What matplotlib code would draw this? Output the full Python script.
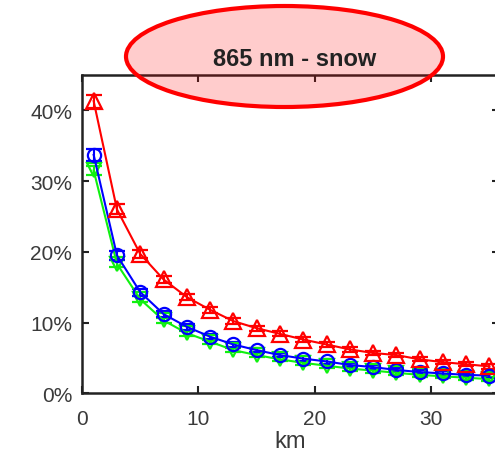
import numpy as np
import matplotlib
matplotlib.use("Agg")
import matplotlib.pyplot as plt
from matplotlib.patches import Ellipse

plt.rcParams['font.family'] = ['Liberation Sans', 'DejaVu Sans']

# distance (km) and relative contribution (%) for each case
km = [1, 3, 5, 7, 9, 11, 13, 15, 17, 19, 21, 23, 25, 27, 29, 31, 33, 35]
red_vals = [41.3, 26.0, 19.7, 16.1, 13.6, 11.8, 10.2, 9.2, 8.4, 7.6, 6.9, 6.2, 5.7, 5.4, 4.8, 4.4, 4.1, 3.8]
blue_vals = [33.7, 19.5, 14.3, 11.2, 9.4, 8.0, 6.9, 6.1, 5.4, 4.9, 4.5, 4.0, 3.7, 3.3, 3.0, 2.8, 2.6, 2.5]
green_vals = [31.5, 18.3, 13.3, 10.3, 8.5, 7.3, 6.1, 5.4, 4.8, 4.3, 3.9, 3.5, 3.2, 2.9, 2.6, 2.4, 2.2, 2.0]
red_err = [0.9, 0.7, 0.6, 0.5, 0.45, 0.4, 0.4, 0.35, 0.35, 0.3, 0.3, 0.3, 0.3, 0.3, 0.3, 0.3, 0.3, 0.3]
blue_err = [0.8, 0.6, 0.5, 0.45, 0.4, 0.35, 0.35, 0.3, 0.3, 0.3, 0.3, 0.3, 0.3, 0.3, 0.3, 0.3, 0.3, 0.3]
green_err = [0.7, 0.5, 0.45, 0.4, 0.35, 0.3, 0.3, 0.3, 0.3, 0.3, 0.3, 0.3, 0.3, 0.3, 0.3, 0.3, 0.3, 0.3]
yticks = [0, 10, 20, 30, 40]
xticks = [0, 10, 20, 30]

fig = plt.figure(figsize=(4.95, 4.52), dpi=100)
ax = fig.add_axes([0.1657, 0.1277, 0.842, 0.7042])

common = dict(lw=1.5, mfc='none', mew=1.6, capsize=5.5, elinewidth=1.5, capthick=1.5)
ax.errorbar(km, green_vals, yerr=green_err, color='#10f010', marker='v', ms=10, **common)
ax.errorbar(km, blue_vals, yerr=blue_err, color='#0000ff', marker='o', ms=9.5, **common)
ax.errorbar(km, red_vals, yerr=red_err, color='#ff0000', marker='^', ms=11, **common)

ax.set_xlim(0, 35.8)
ax.set_ylim(0, 45)
ax.set_xticks(xticks)
ax.set_yticks(yticks)
ax.set_yticklabels([f'{v}%' for v in yticks])
ax.tick_params(direction='in', length=5, width=1.5, top=True, right=True,
               labelsize=15, colors='#222222', labelcolor='#3a3a3a')
ax.tick_params(axis='x', pad=11)
ax.tick_params(axis='y', pad=7)
for s in ax.spines.values():
    s.set_linewidth(1.8)
    s.set_color('#222222')
ax.set_xlabel('km', fontsize=17, color='#3a3a3a', labelpad=2)

# highlighted title
ell = Ellipse((284.5 / 495, 1 - 57.5 / 452), 317 / 495, 101 / 452,
              transform=fig.transFigure, facecolor=(1, 0, 0, 0.2),
              edgecolor='#ff0000', lw=3, zorder=5)
fig.patches.append(ell)
fig.text(295 / 495, 1 - 59 / 452, '865 nm - snow', fontsize=17, fontweight='bold',
         color='#222222', ha='center', va='center', zorder=6)

fig.savefig('out.png', dpi=100)
